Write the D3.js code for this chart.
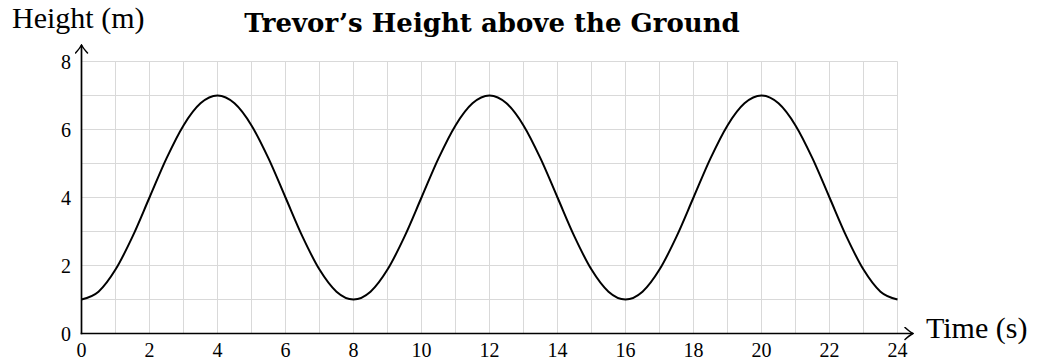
<!DOCTYPE html>
<html>
<head>
<meta charset="utf-8">
<script src="https://cdn.jsdelivr.net/npm/d3@7"></script>
<style>
  body { margin: 0; background: #fff; }
  svg { display: block; }
  text { font-family: "Liberation Serif", "DejaVu Serif", serif; fill: #000; }
</style>
</head>
<body>
<div id="chartContainer"></div>
<script>
// Time (s) at every half second
const times = d3.range(0, 24.01, 0.5);
// Height (m)
const heights = [
  1.00, 1.23, 1.88, 2.85, 4.00, 5.15, 6.12, 6.77, 7.00, 6.77, 6.12, 5.15, 4.00, 2.85, 1.88, 1.23,
  1.00, 1.23, 1.88, 2.85, 4.00, 5.15, 6.12, 6.77, 7.00, 6.77, 6.12, 5.15, 4.00, 2.85, 1.88, 1.23,
  1.00, 1.23, 1.88, 2.85, 4.00, 5.15, 6.12, 6.77, 7.00, 6.77, 6.12, 5.15, 4.00, 2.85, 1.88, 1.23,
  1.00
];
const xTicks = [0, 2, 4, 6, 8, 10, 12, 14, 16, 18, 20, 22, 24];
const yTicks = [0, 2, 4, 6, 8];
const xGrid = d3.range(0, 25, 1);
const yGrid = d3.range(0, 9, 1);

const svgWidth = 1038;
const svgHeight = 364;

const svg = d3.select("#chartContainer")
              .append("svg")
              .attr("width", svgWidth)
              .attr("height", svgHeight);

const xScale = d3.scaleLinear().domain([0, 24]).range([81.5, 897.5]);
const yScale = d3.scaleLinear().domain([0, 8]).range([333.5, 61.5]);

// grid
svg.append("g")
   .selectAll("line")
   .data(xGrid)
   .enter()
   .append("line")
   .attr("x1", d => xScale(d)).attr("x2", d => xScale(d))
   .attr("y1", yScale(0)).attr("y2", yScale(8))
   .attr("stroke", "#d9d9d9")
   .attr("stroke-width", 1);

svg.append("g")
   .selectAll("line")
   .data(yGrid)
   .enter()
   .append("line")
   .attr("x1", xScale(0)).attr("x2", xScale(24))
   .attr("y1", d => yScale(d)).attr("y2", d => yScale(d))
   .attr("stroke", "#d9d9d9")
   .attr("stroke-width", 1);

// axes with arrows
const defs = svg.append("defs");
defs.append("marker")
    .attr("id", "arrow")
    .attr("viewBox", "-10 -7 11 14")
    .attr("refX", 0).attr("refY", 0)
    .attr("markerWidth", 11).attr("markerHeight", 14)
    .attr("markerUnits", "userSpaceOnUse")
    .attr("orient", "auto")
    .append("path")
    .attr("d", "M-8,-6 Q-3,-1.5 0,0 Q-3,1.5 -8,6")
    .attr("fill", "none")
    .attr("stroke", "#000")
    .attr("stroke-width", 1.5)
    .attr("stroke-linecap", "round");

svg.append("line")
   .attr("x1", xScale(0) - 0.8).attr("x2", 913)
   .attr("y1", yScale(0)).attr("y2", yScale(0))
   .attr("stroke", "#000").attr("stroke-width", 1.7)
   .attr("marker-end", "url(#arrow)");

svg.append("line")
   .attr("x1", xScale(0)).attr("x2", xScale(0))
   .attr("y1", yScale(0) + 0.8).attr("y2", 45)
   .attr("stroke", "#000").attr("stroke-width", 1.7)
   .attr("marker-end", "url(#arrow)");

// tick labels
svg.append("g")
   .selectAll("text")
   .data(xTicks)
   .enter()
   .append("text")
   .attr("x", d => xScale(d))
   .attr("y", 357)
   .attr("text-anchor", "middle")
   .style("font-size", "20px")
   .text(d => d);

svg.append("g")
   .selectAll("text")
   .data(yTicks)
   .enter()
   .append("text")
   .attr("x", 71)
   .attr("y", d => yScale(d) + 7)
   .attr("text-anchor", "end")
   .style("font-size", "20px")
   .text(d => d);

// curve
const line = d3.line()
               .x((d, i) => xScale(times[i]))
               .y(d => yScale(d))
               .curve(d3.curveMonotoneX);

svg.append("path")
   .datum(heights)
   .attr("fill", "none")
   .attr("stroke", "#000")
   .attr("stroke-width", 2)
   .attr("d", line);

// labels
svg.append("text")
   .attr("x", 12).attr("y", 28)
   .style("font-size", "30px")
   .text("Height (m)");

svg.append("text")
   .attr("x", 926).attr("y", 338)
   .style("font-size", "30px")
   .text("Time (s)");

svg.append("text")
   .attr("x", 492).attr("y", 32)
   .attr("text-anchor", "middle")
   .style("font-family", "'DejaVu Serif', serif")
   .style("font-size", "26px")
   .style("font-weight", "bold")
   .text("Trevor’s Height above the Ground");
</script>
</body>
</html>
